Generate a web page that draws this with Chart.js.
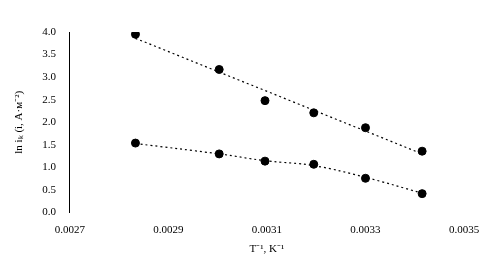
<!DOCTYPE html>
<html lang="en">
<head>
  <meta charset="UTF-8">
  <title>Chart</title>
  <script src="https://cdn.jsdelivr.net/npm/chart.js"></script>
  <style>
    html, body { margin: 0; padding: 0; background: #fff; }
    #wrap { width: 500px; height: 272px; }
  </style>
</head>
<body>
  <div id="wrap"><canvas id="arrhenius"></canvas></div>
  <script>
    // inverse temperature, K^-1
    const invT = [0.002833, 0.003003, 0.003096, 0.003195, 0.003300, 0.003415];
    // ln i for the two series
    const upper = [3.95, 3.17, 2.48, 2.21, 1.88, 1.36];
    const lower = [1.54, 1.30, 1.14, 1.07, 0.76, 0.42];
    // trendlines
    const upperTrendX = [0.002833, 0.003415];
    const upperTrend = [3.86, 1.30];
    const lowerTrendX = [0.002833, 0.003003, 0.003096, 0.003195, 0.003300, 0.003415];
    const lowerTrend = [1.53, 1.30, 1.15, 1.04, 0.78, 0.43];

    const xTicks = [0.0027, 0.0029, 0.0031, 0.0033, 0.0035];

    const pts = (xs, ys) => xs.map((x, i) => ({ x: x, y: ys[i] }));
    const font = { family: '"Liberation Serif", "Times New Roman", serif', size: 11 };

    const trendStyle = {
      borderColor: '#000',
      borderWidth: 1.2,
      borderDash: [2, 3],
      pointRadius: 0,
      showLine: true,
      fill: false
    };
    const dotStyle = {
      backgroundColor: '#000',
      borderColor: '#000',
      pointRadius: 4,
      showLine: false
    };

    new Chart(document.getElementById('arrhenius'), {
      type: 'scatter',
      data: {
        datasets: [
          Object.assign({ data: pts(upperTrendX, upperTrend) }, trendStyle),
          Object.assign({ data: pts(lowerTrendX, lowerTrend), tension: 0.4 }, trendStyle),
          Object.assign({ data: pts(invT, upper) }, dotStyle),
          Object.assign({ data: pts(invT, lower) }, dotStyle)
        ]
      },
      options: {
        responsive: true,
        maintainAspectRatio: false,
        animation: false,
        layout: { padding: { left: 9, right: 36, top: 32, bottom: 16 } },
        plugins: { legend: { display: false }, tooltip: { enabled: false } },
        scales: {
          x: {
            type: 'linear',
            min: 0.0027,
            max: 0.0035,
            afterBuildTicks: (axis) => { axis.ticks = xTicks.map(v => ({ value: v })); },
            grid: { display: false, drawTicks: false },
            border: { display: false },
            ticks: {
              color: '#000',
              font: font,
              padding: 11,
              callback: (v) => v.toFixed(4)
            },
            title: { display: true, text: 'T⁻¹, K⁻¹', color: '#000', font: font, padding: { top: -5, bottom: 0 } }
          },
          y: {
            min: 0,
            max: 4,
            grid: { display: false, drawTicks: false },
            border: { display: true, color: '#000', width: 1 },
            ticks: {
              stepSize: 0.5,
              color: '#000',
              font: font,
              padding: 14,
              callback: (v) => v.toFixed(1)
            },
            title: { display: true, text: 'ln iₖ (i, А·м⁻²)', color: '#000', font: font, padding: { bottom: 2 } }
          }
        }
      }
    });
  </script>
</body>
</html>
